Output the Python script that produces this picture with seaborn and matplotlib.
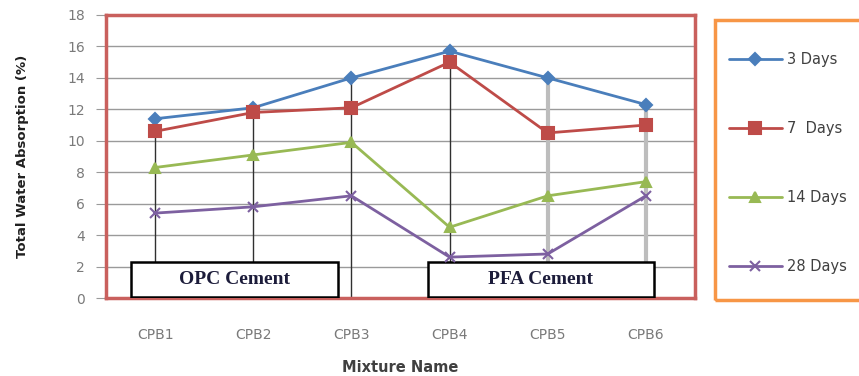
import numpy as np
import pandas as pd
import matplotlib.pyplot as plt
import seaborn as sns
from matplotlib.patches import Rectangle

# data
mixtures = ["CPB1", "CPB2", "CPB3", "CPB4", "CPB5", "CPB6"]
days_3 = [11.4, 12.1, 14.0, 15.7, 14.0, 12.3]
days_7 = [10.6, 11.8, 12.1, 15.0, 10.5, 11.0]
days_14 = [8.3, 9.1, 9.9, 4.5, 6.5, 7.4]
days_28 = [5.4, 5.8, 6.5, 2.6, 2.8, 6.5]
series_names = ["3 Days", "7  Days", "14 Days", "28 Days"]
groups = ["OPC Cement", "PFA Cement"]

wide = pd.DataFrame({
    "Mixture": mixtures,
    series_names[0]: days_3,
    series_names[1]: days_7,
    series_names[2]: days_14,
    series_names[3]: days_28,
})
df = wide.melt(id_vars="Mixture", var_name="Series", value_name="Absorption")
df["pos"] = df["Mixture"].map({m: i for i, m in enumerate(mixtures)})

colors = ["#4a7ebb", "#be4b48", "#98b954", "#7d60a0"]
markers = ["D", "s", "^", "x"]
msizes = [6, 9, 7, 7]

sns.set_style("white")
plt.rcParams["font.family"] = ["DejaVu Sans"]

fig = plt.figure(figsize=(8.59, 3.76), dpi=100)
ax = fig.add_axes([106 / 859, 1 - 298 / 376, 589 / 859, 283 / 376])

# drop lines from the highest point down to the axis
top = df.groupby("pos")["Absorption"].max()
drop_cols = ["#303030"] * 4 + ["#bdbdbd"] * 2
drop_lw = [1.0] * 4 + [3.0] * 2
ax.vlines(top.index, 0, top.values, colors=drop_cols, linewidths=drop_lw, zorder=2)

for name, c, m, ms in zip(series_names, colors, markers, msizes):
    sub = df[df["Series"] == name]
    sns.lineplot(data=sub, x="pos", y="Absorption", ax=ax, color=c, marker=m,
                 markersize=ms, markeredgecolor=c, markeredgewidth=1.5,
                 linewidth=2.0, label=name, legend=False, zorder=4)

# group boxes
box_spans = [(-0.245, 1.86), (2.78, 5.08)]
for (x0, x1), g in zip(box_spans, groups):
    ax.add_patch(Rectangle((x0, 0.08), x1 - x0, 2.22, facecolor="white",
                           edgecolor="black", linewidth=1.8, zorder=3))
    ax.text((x0 + x1) / 2, 1.2, g, ha="center", va="center", fontsize=14,
            fontweight="bold", family="Liberation Serif", color="#1c1c3a", zorder=5)

ax.set_xlim(-0.5, 5.5)
ax.set_ylim(0, 18)
ax.set_yticks(np.arange(0, 19, 2))
ax.set_xticks(range(len(mixtures)))
ax.set_xticklabels(mixtures)
ax.yaxis.grid(True, color="#9a9a9a", linewidth=1.0)
ax.set_axisbelow(True)
ax.tick_params(axis="y", which="both", left=True, length=7, color="#9a9a9a",
               pad=8, labelsize=10, labelcolor="#7a7a7a")
ax.tick_params(axis="x", bottom=False, pad=18, labelsize=10, labelcolor="#7a7a7a")
for s in ax.spines.values():
    s.set_color("#c9605d")
    s.set_linewidth(2.5)

ax.set_xlabel("Mixture Name", fontsize=10.5, fontweight="bold", color="#404040")
ax.set_ylabel("Total Water Absorption (%)", fontsize=9.5, fontweight="bold", color="#202020")
ax.xaxis.set_label_coords(0.5, -0.22)
ax.yaxis.set_label_coords(-0.13, 0.5)

# legend in its own orange frame
handles, labels = ax.get_legend_handles_labels()
fig.legend(handles, labels, loc="upper left", bbox_to_anchor=(716 / 859, 1 - 39 / 376),
           frameon=False, fontsize=10.5, labelspacing=3.7, handlelength=3.6,
           handletextpad=0.4, labelcolor="#404040")
fig.patches.append(Rectangle((715 / 859, 1 - 300 / 376), 160 / 859, 280 / 376,
                             transform=fig.transFigure, facecolor="none",
                             edgecolor="#f79646", linewidth=2.5))

fig.savefig("out.png", dpi=100)
